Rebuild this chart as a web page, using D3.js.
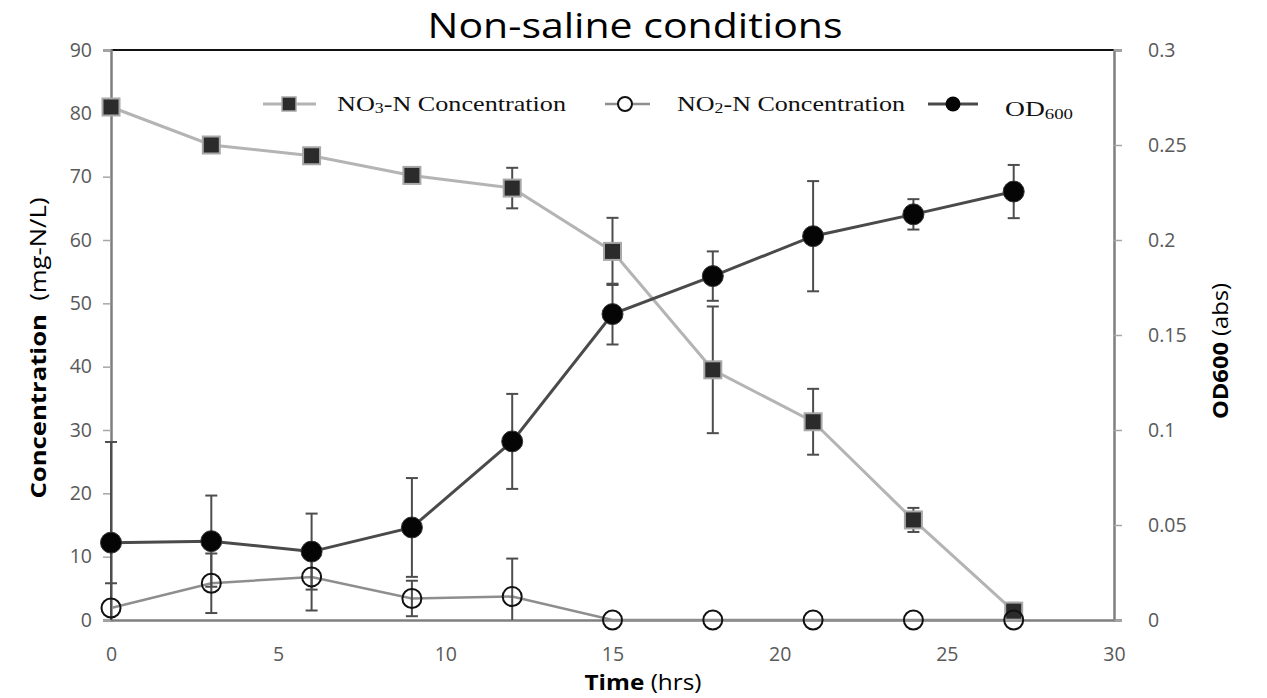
<!DOCTYPE html>
<html>
<head>
<meta charset="utf-8">
<script src="https://cdn.jsdelivr.net/npm/d3@7"></script>
<style>
  body { margin: 0; background: #fff; }
  svg text { font-family: "Open Sans", Lato, sans-serif; }
  .tick-label { fill: #595959; font-size: 19.5px; }
  .legend-text { font-family: "Liberation Serif", "Times New Roman", serif !important; font-size: 22px; fill: #111; }
</style>
</head>
<body>
<svg id="chart"></svg>
<script>
// sampling times (hrs)
const time = [0, 3, 6, 9, 12, 15, 18, 21, 24, 27];
// NO3-N concentration (mg-N/L) and its error
const no3 = [81, 75, 73.3, 70.2, 68.2, 58.2, 39.5, 31.3, 15.8, 1.4];
const no3Err = [0, 0, 0, 0, 3.2, 5.3, 10, 5.2, 1.9, 1.3];
// NO2-N concentration (mg-N/L) and its error
const no2 = [1.9, 5.8, 6.8, 3.4, 3.7, 0, 0, 0, 0, 0];
const no2Err = [3.9, 4.7, 5.3, 2.8, 6.0, 0, 0, 0, 0, 0];
// OD600 (abs) and its error
const od = [0.0407, 0.0415, 0.036, 0.0487, 0.094, 0.161, 0.181, 0.202, 0.2135, 0.2255];
const odErr = [0.053, 0.024, 0.020, 0.026, 0.025, 0.016, 0.013, 0.029, 0.008, 0.014];

const xTicks = [0, 5, 10, 15, 20, 25, 30];
const yLeftTicks = [0, 10, 20, 30, 40, 50, 60, 70, 80, 90];
const yRightTicks = [0, 0.05, 0.1, 0.15, 0.2, 0.25, 0.3];

const W = 1267, H = 698;
const svg = d3.select('#chart').attr('width', W).attr('height', H);

const x = d3.scaleLinear().domain([0, 30]).range([111, 1114]);
const yL = d3.scaleLinear().domain([0, 90]).range([620, 50]);
const yR = d3.scaleLinear().domain([0, 0.3]).range([620, 50]);

// clip region for error bars (values below zero are cut)
svg.append('clipPath').attr('id', 'plotClip')
  .append('rect').attr('x', 90).attr('y', 40).attr('width', 1050).attr('height', 580);

// title
svg.append('text').attr('x', 635).attr('y', 38).attr('text-anchor', 'middle')
  .attr('font-size', 34).attr('fill', '#000')
  .attr('textLength', 415).attr('lengthAdjust', 'spacingAndGlyphs')
  .text('Non-saline conditions');

// top border
svg.append('line').attr('x1', x(0)).attr('x2', x(30)).attr('y1', yL(90)).attr('y2', yL(90))
  .attr('stroke', '#111').attr('stroke-width', 2);

// left axis
const leftAxis = d3.axisLeft(yL).tickValues(yLeftTicks).tickSize(8).tickFormat(d3.format('d'));
const gL = svg.append('g').attr('transform', `translate(${x(0)},0)`).call(leftAxis);
gL.select('.domain').attr('stroke', '#7f7f7f').attr('stroke-width', 2.5);
gL.selectAll('.tick line').attr('stroke', '#a6a6a6').attr('stroke-width', 1.5);
gL.selectAll('.tick text').attr('class', 'tick-label').attr('x', -19).attr('font-size', null).attr('fill', null)
  .attr('font-family', null);

// right axis
const rightAxis = d3.axisRight(yR).tickValues(yRightTicks).tickSize(8).tickFormat(d => d === 0 ? '0' : String(+d.toFixed(2)));
const gR = svg.append('g').attr('transform', `translate(${x(30)},0)`).call(rightAxis);
gR.select('.domain').attr('stroke', '#7f7f7f').attr('stroke-width', 2.5);
gR.selectAll('.tick line').attr('stroke', '#a6a6a6').attr('stroke-width', 1.5);
gR.selectAll('.tick text').attr('class', 'tick-label').attr('x', 34).attr('font-size', null).attr('fill', null)
  .attr('font-family', null);

// bottom axis
const bottomAxis = d3.axisBottom(x).tickValues(xTicks).tickSize(0);
const gB = svg.append('g').attr('transform', `translate(0,${yL(0)})`).call(bottomAxis);
gB.select('.domain').attr('stroke', '#7f7f7f').attr('stroke-width', 2.5);
gB.selectAll('.tick text').attr('class', 'tick-label').attr('font-size', null).attr('fill', null)
  .attr('font-family', null).attr('dy', '0.32em').attr('y', 35);

svg.selectAll('.domain').attr('fill', 'none');

// axis titles
const lt = svg.append('text').attr('transform', 'translate(46,348) rotate(-90)')
  .attr('text-anchor', 'middle').attr('font-size', 22).attr('fill', '#000')
  .attr('textLength', 301).attr('lengthAdjust', 'spacingAndGlyphs');
lt.append('tspan').attr('font-weight', 'bold').text('Concentration');
lt.append('tspan').text('\u00a0 (mg-N/L)');

const rt = svg.append('text').attr('transform', 'translate(1228,351) rotate(-90)')
  .attr('text-anchor', 'middle').attr('font-size', 21).attr('fill', '#000')
  .attr('textLength', 136).attr('lengthAdjust', 'spacingAndGlyphs');
rt.append('tspan').attr('font-weight', 'bold').text('OD600');
rt.append('tspan').text(' (abs)');

const bt = svg.append('text').attr('x', 643).attr('y', 690)
  .attr('text-anchor', 'middle').attr('font-size', 22).attr('fill', '#000')
  .attr('textLength', 117).attr('lengthAdjust', 'spacingAndGlyphs');
bt.append('tspan').attr('font-weight', 'bold').text('Time');
bt.append('tspan').text(' (hrs)');

// series
const series = [
  { key: 'no3', vals: no3, err: no3Err, y: yL, line: '#b4b4b4', lw: 3 },
  { key: 'no2', vals: no2, err: no2Err, y: yL, line: '#8e8e8e', lw: 2.5 },
  { key: 'od', vals: od, err: odErr, y: yR, line: '#4a4a4a', lw: 3 }
];

series.forEach(s => {
  const pts = time.map((t, i) => ({ t, v: s.vals[i], e: s.err[i] }));
  svg.append('path').datum(pts)
    .attr('fill', 'none').attr('stroke', s.line).attr('stroke-width', s.lw)
    .attr('d', d3.line().x(d => x(d.t)).y(d => s.y(d.v)));
  s.pts = pts;
});

// error bars
const eg = svg.append('g').attr('clip-path', 'url(#plotClip)');
series.forEach(s => {
  const bars = s.pts.filter(d => d.e > 0);
  eg.selectAll(null).data(bars).join('line')
    .attr('x1', d => x(d.t)).attr('x2', d => x(d.t))
    .attr('y1', d => s.y(d.v - d.e)).attr('y2', d => s.y(d.v + d.e))
    .attr('stroke', '#4d4d4d').attr('stroke-width', 2);
  [-1, 1].forEach(sign => {
    eg.selectAll(null).data(bars).join('line')
      .attr('x1', d => x(d.t) - 6).attr('x2', d => x(d.t) + 6)
      .attr('y1', d => s.y(d.v + sign * d.e)).attr('y2', d => s.y(d.v + sign * d.e))
      .attr('stroke', '#4d4d4d').attr('stroke-width', 2);
  });
});

// markers
svg.selectAll('.sq').data(series[0].pts).join('rect').attr('class', 'sq')
  .attr('x', d => x(d.t) - 8.5).attr('y', d => yL(d.v) - 8.5)
  .attr('width', 17).attr('height', 17)
  .attr('fill', '#2b2b2b').attr('stroke', '#a8a8a8').attr('stroke-width', 2);

svg.selectAll('.oc').data(series[1].pts).join('circle').attr('class', 'oc')
  .attr('cx', d => x(d.t)).attr('cy', d => yL(d.v)).attr('r', 9.5)
  .attr('fill', 'none').attr('stroke', '#111').attr('stroke-width', 2);

svg.selectAll('.fc').data(series[2].pts).join('circle').attr('class', 'fc')
  .attr('cx', d => x(d.t)).attr('cy', d => yR(d.v)).attr('r', 10.5)
  .attr('fill', '#050505').attr('stroke', '#333').attr('stroke-width', 1);

// legend
const ly = 104;
const legend = svg.append('g');
legend.append('line').attr('x1', 263).attr('x2', 316).attr('y1', ly).attr('y2', ly).attr('stroke', '#b4b4b4').attr('stroke-width', 3);
legend.append('rect').attr('x', 282).attr('y', ly - 7).attr('width', 14).attr('height', 14).attr('fill', '#2b2b2b').attr('stroke', '#a8a8a8').attr('stroke-width', 1.5);
const t1 = legend.append('text').attr('class', 'legend-text').attr('x', 337).attr('y', ly + 7)
  .attr('textLength', 229).attr('lengthAdjust', 'spacingAndGlyphs');
t1.append('tspan').text('NO');
t1.append('tspan').attr('font-size', 15).attr('dy', 2).text('3');
t1.append('tspan').attr('dy', -2).text('-N Concentration');

legend.append('line').attr('x1', 605).attr('x2', 650).attr('y1', ly).attr('y2', ly).attr('stroke', '#8e8e8e').attr('stroke-width', 2.5);
legend.append('circle').attr('cx', 625).attr('cy', ly).attr('r', 7).attr('fill', '#fff').attr('stroke', '#111').attr('stroke-width', 2);
const t2 = legend.append('text').attr('class', 'legend-text').attr('x', 677).attr('y', ly + 7)
  .attr('textLength', 228).attr('lengthAdjust', 'spacingAndGlyphs');
t2.append('tspan').text('NO');
t2.append('tspan').attr('font-size', 15).attr('dy', 2).text('2');
t2.append('tspan').attr('dy', -2).text('-N Concentration');

legend.append('line').attr('x1', 928).attr('x2', 978).attr('y1', ly).attr('y2', ly).attr('stroke', '#4a4a4a').attr('stroke-width', 3);
legend.append('circle').attr('cx', 953).attr('cy', ly).attr('r', 7.5).attr('fill', '#050505');
const t3 = legend.append('text').attr('class', 'legend-text').attr('x', 1005).attr('y', ly + 12).attr('font-size', 25)
  .attr('textLength', 68).attr('lengthAdjust', 'spacingAndGlyphs');
t3.append('tspan').text('OD');
t3.append('tspan').attr('font-size', 15).attr('dy', 3).text('600');
</script>
</body>
</html>
